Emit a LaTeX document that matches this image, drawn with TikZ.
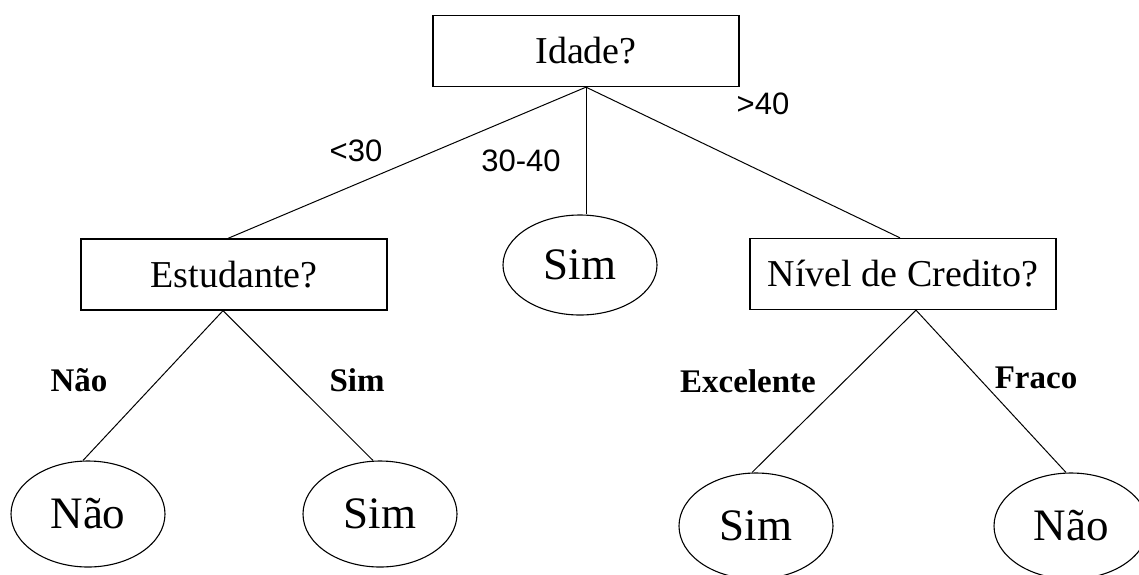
\documentclass[tikz,border=0pt]{standalone}
\usepackage{fontspec}
\setmainfont{Liberation Serif}
\newfontfamily\arialfont{Liberation Sans}
\usetikzlibrary{shapes.geometric}
\tikzset{
  qbox/.style={draw, line width=1.3pt, minimum width=306pt, minimum height=71pt, inner sep=0pt, font=\fontsize{38}{40}\selectfont},
  leaf/.style={draw, ellipse, line width=1.1pt, minimum width=154pt, minimum height=106pt, inner sep=0pt, font=\fontsize{45}{48}\selectfont},
  edge/.style={line width=1pt},
  numlab/.style={font=\arialfont\fontsize{31}{33}\selectfont, inner sep=0pt},
  brlab/.style={font=\bfseries\fontsize{33}{35}\selectfont, inner sep=0pt}
}
\begin{document}
\begin{tikzpicture}[x=1pt,y=-1pt]
\useasboundingbox (0,0) rectangle (1139,574);
\clip (0,0) rectangle (1139,574);
\node[qbox] (idade) at (586,51) {Idade?};
\node[qbox] (est) at (234,274.5) {Estudante?};
\node[qbox] (cred) at (903,274) {Nível de Credito?};
\node[leaf, minimum height=100pt] (sim0) at (580,265) {Sim};
\node[leaf] (nao1) at (88,514) {Não};
\node[leaf] (sim1) at (380,514) {Sim};
\node[leaf] (sim2) at (756,526) {Sim};
\node[leaf] (nao2) at (1071,526) {Não};
\draw[edge] (idade.south) -- ([xshift=-6pt]est.north);
\draw[edge] (idade.south) -- ([xshift=6pt]sim0.north);
\draw[edge] (idade.south) -- ([xshift=-3pt]cred.north);
\draw[edge] ([xshift=-11pt]est.south) -- ([xshift=-5pt]nao1.north);
\draw[edge] ([xshift=-11pt]est.south) -- ([xshift=-7pt]sim1.north);
\draw[edge] ([xshift=13pt]cred.south) -- ([xshift=-4pt]sim2.north);
\draw[edge] ([xshift=13pt]cred.south) -- ([xshift=-5pt]nao2.north);
\node[numlab] (l1) at (356,151) {<30};
\node[numlab] (l2) at (521,161) {30-40};
\node[numlab] (l3) at (763,104) {>40};
\node[brlab] (l4) at (79,380) {Não};
\node[brlab] (l5) at (357,380) {Sim};
\node[brlab] (l6) at (748,381) {Excelente};
\node[brlab] (l7) at (1036,378) {Fraco};
\end{tikzpicture}
\end{document}
